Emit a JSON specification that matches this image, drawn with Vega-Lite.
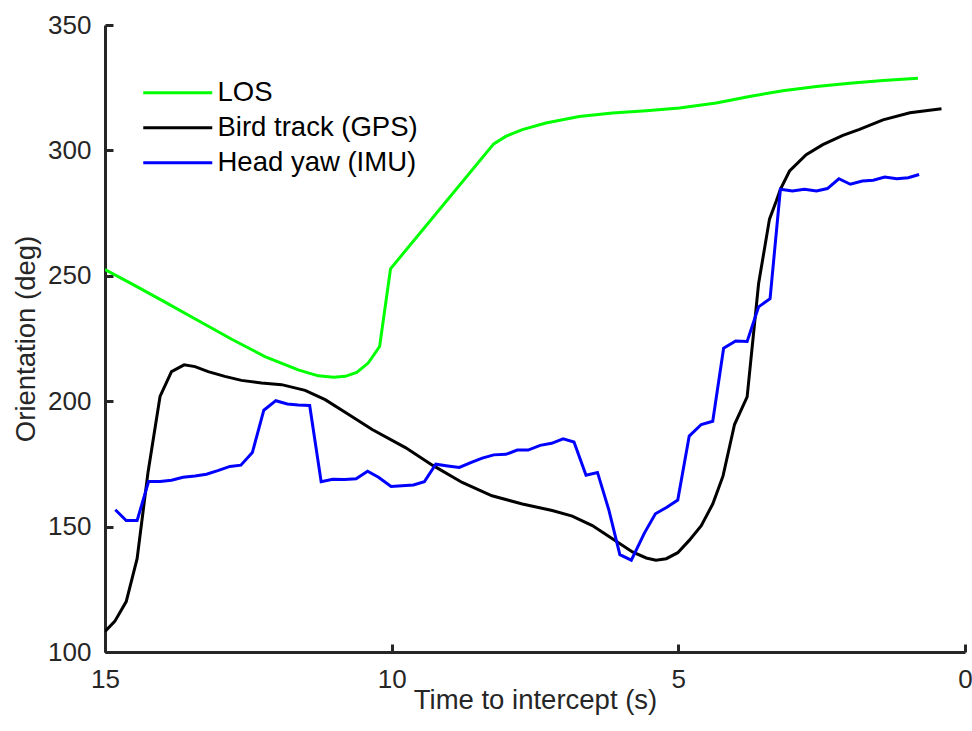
{
  "$schema": "https://vega.github.io/schema/vega-lite/v6.json",
  "width": 860,
  "height": 627,
  "autosize": "none",
  "padding": {"left": 105, "top": 25, "right": 7, "bottom": 79},
  "background": "white",
  "config": {
    "view": {"stroke": null},
    "font": "Liberation Sans",
    "axis": {
      "grid": false,
      "domainColor": "#262626",
      "domainWidth": 3,
      "tickColor": "#262626",
      "tickWidth": 3,
      "tickSize": -8,
      "labelColor": "#262626",
      "labelFont": "Liberation Sans",
      "labelFontSize": 26,
      "labelFlush": false,
      "labelOverlap": false,
      "titleColor": "#262626",
      "titleFont": "Liberation Sans",
      "titleFontSize": 27.5,
      "titleFontWeight": "normal"
    },
    "legend": {
      "labelFont": "Liberation Sans",
      "labelFontSize": 27.5,
      "labelColor": "#000000",
      "labelLimit": 0,
      "symbolType": "M-3,0H3",
      "symbolSize": 529,
      "symbolStrokeWidth": 3,
      "labelOffset": 26,
      "rowPadding": 6,
      "padding": 0
    }
  },
  "data": {
    "values": [
      {"series": "LOS", "t": 15.0, "v": 252.5},
      {"series": "LOS", "t": 14.54, "v": 246.9},
      {"series": "LOS", "t": 13.96, "v": 239.6},
      {"series": "LOS", "t": 13.37, "v": 232.1},
      {"series": "LOS", "t": 12.79, "v": 224.7},
      {"series": "LOS", "t": 12.21, "v": 217.8},
      {"series": "LOS", "t": 11.63, "v": 212.5},
      {"series": "LOS", "t": 11.28, "v": 210.1},
      {"series": "LOS", "t": 11.01, "v": 209.6},
      {"series": "LOS", "t": 10.81, "v": 209.9},
      {"series": "LOS", "t": 10.61, "v": 211.5},
      {"series": "LOS", "t": 10.41, "v": 215.2},
      {"series": "LOS", "t": 10.21, "v": 221.8},
      {"series": "LOS", "t": 10.02, "v": 252.8},
      {"series": "LOS", "t": 8.22, "v": 302.6},
      {"series": "LOS", "t": 8.01, "v": 305.6},
      {"series": "LOS", "t": 7.72, "v": 308.3},
      {"series": "LOS", "t": 7.31, "v": 310.9},
      {"series": "LOS", "t": 6.73, "v": 313.5},
      {"series": "LOS", "t": 6.15, "v": 314.9},
      {"series": "LOS", "t": 5.56, "v": 315.8},
      {"series": "LOS", "t": 4.98, "v": 316.9},
      {"series": "LOS", "t": 4.34, "v": 318.9},
      {"series": "LOS", "t": 3.76, "v": 321.5},
      {"series": "LOS", "t": 3.18, "v": 323.8},
      {"series": "LOS", "t": 2.59, "v": 325.5},
      {"series": "LOS", "t": 2.01, "v": 326.8},
      {"series": "LOS", "t": 1.43, "v": 327.9},
      {"series": "LOS", "t": 0.82, "v": 328.8},

      {"series": "Bird track (GPS)", "t": 15.0, "v": 108.2},
      {"series": "Bird track (GPS)", "t": 14.83, "v": 112.2},
      {"series": "Bird track (GPS)", "t": 14.63, "v": 120.1},
      {"series": "Bird track (GPS)", "t": 14.44, "v": 137.2},
      {"series": "Bird track (GPS)", "t": 14.25, "v": 171.6},
      {"series": "Bird track (GPS)", "t": 14.04, "v": 201.9},
      {"series": "Bird track (GPS)", "t": 13.84, "v": 211.8},
      {"series": "Bird track (GPS)", "t": 13.62, "v": 214.5},
      {"series": "Bird track (GPS)", "t": 13.43, "v": 213.8},
      {"series": "Bird track (GPS)", "t": 13.2, "v": 211.8},
      {"series": "Bird track (GPS)", "t": 12.91, "v": 209.9},
      {"series": "Bird track (GPS)", "t": 12.62, "v": 208.3},
      {"series": "Bird track (GPS)", "t": 12.27, "v": 207.3},
      {"series": "Bird track (GPS)", "t": 11.92, "v": 206.6},
      {"series": "Bird track (GPS)", "t": 11.51, "v": 204.3},
      {"series": "Bird track (GPS)", "t": 11.16, "v": 200.6},
      {"series": "Bird track (GPS)", "t": 10.75, "v": 194.7},
      {"series": "Bird track (GPS)", "t": 10.34, "v": 188.7},
      {"series": "Bird track (GPS)", "t": 9.76, "v": 181.5},
      {"series": "Bird track (GPS)", "t": 9.29, "v": 174.5},
      {"series": "Bird track (GPS)", "t": 8.77, "v": 167.6},
      {"series": "Bird track (GPS)", "t": 8.25, "v": 162.3},
      {"series": "Bird track (GPS)", "t": 7.72, "v": 159.0},
      {"series": "Bird track (GPS)", "t": 7.2, "v": 156.4},
      {"series": "Bird track (GPS)", "t": 6.85, "v": 154.2},
      {"series": "Bird track (GPS)", "t": 6.5, "v": 150.4},
      {"series": "Bird track (GPS)", "t": 6.15, "v": 145.2},
      {"series": "Bird track (GPS)", "t": 5.8, "v": 139.9},
      {"series": "Bird track (GPS)", "t": 5.56, "v": 137.5},
      {"series": "Bird track (GPS)", "t": 5.39, "v": 136.6},
      {"series": "Bird track (GPS)", "t": 5.21, "v": 137.2},
      {"series": "Bird track (GPS)", "t": 5.01, "v": 139.6},
      {"series": "Bird track (GPS)", "t": 4.81, "v": 144.5},
      {"series": "Bird track (GPS)", "t": 4.6, "v": 150.4},
      {"series": "Bird track (GPS)", "t": 4.4, "v": 159.0},
      {"series": "Bird track (GPS)", "t": 4.22, "v": 170.2},
      {"series": "Bird track (GPS)", "t": 4.02, "v": 190.7},
      {"series": "Bird track (GPS)", "t": 3.8, "v": 201.7},
      {"series": "Bird track (GPS)", "t": 3.6, "v": 246.9},
      {"series": "Bird track (GPS)", "t": 3.41, "v": 272.6},
      {"series": "Bird track (GPS)", "t": 3.29, "v": 279.9},
      {"series": "Bird track (GPS)", "t": 3.22, "v": 284.5},
      {"series": "Bird track (GPS)", "t": 3.06, "v": 291.8},
      {"series": "Bird track (GPS)", "t": 2.77, "v": 298.3},
      {"series": "Bird track (GPS)", "t": 2.48, "v": 302.3},
      {"series": "Bird track (GPS)", "t": 2.13, "v": 306.0},
      {"series": "Bird track (GPS)", "t": 1.84, "v": 308.4},
      {"series": "Bird track (GPS)", "t": 1.43, "v": 312.2},
      {"series": "Bird track (GPS)", "t": 0.96, "v": 315.0},
      {"series": "Bird track (GPS)", "t": 0.41, "v": 316.6},

      {"series": "Head yaw (IMU)", "t": 14.82, "v": 156.7},
      {"series": "Head yaw (IMU)", "t": 14.63, "v": 152.4},
      {"series": "Head yaw (IMU)", "t": 14.44, "v": 152.4},
      {"series": "Head yaw (IMU)", "t": 14.24, "v": 168.0},
      {"series": "Head yaw (IMU)", "t": 14.04, "v": 168.0},
      {"series": "Head yaw (IMU)", "t": 13.84, "v": 168.5},
      {"series": "Head yaw (IMU)", "t": 13.64, "v": 169.7},
      {"series": "Head yaw (IMU)", "t": 13.43, "v": 170.2},
      {"series": "Head yaw (IMU)", "t": 13.23, "v": 170.9},
      {"series": "Head yaw (IMU)", "t": 13.02, "v": 172.4},
      {"series": "Head yaw (IMU)", "t": 12.82, "v": 174.0},
      {"series": "Head yaw (IMU)", "t": 12.63, "v": 174.5},
      {"series": "Head yaw (IMU)", "t": 12.43, "v": 179.5},
      {"series": "Head yaw (IMU)", "t": 12.23, "v": 196.4},
      {"series": "Head yaw (IMU)", "t": 12.02, "v": 200.2},
      {"series": "Head yaw (IMU)", "t": 11.82, "v": 198.9},
      {"series": "Head yaw (IMU)", "t": 11.63, "v": 198.5},
      {"series": "Head yaw (IMU)", "t": 11.43, "v": 198.3},
      {"series": "Head yaw (IMU)", "t": 11.23, "v": 167.9},
      {"series": "Head yaw (IMU)", "t": 11.03, "v": 168.9},
      {"series": "Head yaw (IMU)", "t": 10.82, "v": 168.8},
      {"series": "Head yaw (IMU)", "t": 10.62, "v": 169.1},
      {"series": "Head yaw (IMU)", "t": 10.42, "v": 172.1},
      {"series": "Head yaw (IMU)", "t": 10.23, "v": 169.7},
      {"series": "Head yaw (IMU)", "t": 10.01, "v": 166.0},
      {"series": "Head yaw (IMU)", "t": 9.82, "v": 166.3},
      {"series": "Head yaw (IMU)", "t": 9.62, "v": 166.6},
      {"series": "Head yaw (IMU)", "t": 9.43, "v": 167.9},
      {"series": "Head yaw (IMU)", "t": 9.23, "v": 174.9},
      {"series": "Head yaw (IMU)", "t": 9.02, "v": 174.2},
      {"series": "Head yaw (IMU)", "t": 8.82, "v": 173.6},
      {"series": "Head yaw (IMU)", "t": 8.61, "v": 175.6},
      {"series": "Head yaw (IMU)", "t": 8.42, "v": 177.3},
      {"series": "Head yaw (IMU)", "t": 8.22, "v": 178.6},
      {"series": "Head yaw (IMU)", "t": 8.01, "v": 178.8},
      {"series": "Head yaw (IMU)", "t": 7.81, "v": 180.5},
      {"series": "Head yaw (IMU)", "t": 7.62, "v": 180.5},
      {"series": "Head yaw (IMU)", "t": 7.41, "v": 182.4},
      {"series": "Head yaw (IMU)", "t": 7.21, "v": 183.2},
      {"series": "Head yaw (IMU)", "t": 7.01, "v": 185.0},
      {"series": "Head yaw (IMU)", "t": 6.82, "v": 183.7},
      {"series": "Head yaw (IMU)", "t": 6.61, "v": 170.5},
      {"series": "Head yaw (IMU)", "t": 6.41, "v": 171.6},
      {"series": "Head yaw (IMU)", "t": 6.21, "v": 156.5},
      {"series": "Head yaw (IMU)", "t": 6.02, "v": 138.8},
      {"series": "Head yaw (IMU)", "t": 5.82, "v": 136.6},
      {"series": "Head yaw (IMU)", "t": 5.59, "v": 147.5},
      {"series": "Head yaw (IMU)", "t": 5.4, "v": 155.1},
      {"series": "Head yaw (IMU)", "t": 5.2, "v": 157.7},
      {"series": "Head yaw (IMU)", "t": 5.01, "v": 160.6},
      {"series": "Head yaw (IMU)", "t": 4.81, "v": 186.1},
      {"series": "Head yaw (IMU)", "t": 4.6, "v": 190.7},
      {"series": "Head yaw (IMU)", "t": 4.4, "v": 192.0},
      {"series": "Head yaw (IMU)", "t": 4.21, "v": 221.1},
      {"series": "Head yaw (IMU)", "t": 4.0, "v": 224.0},
      {"series": "Head yaw (IMU)", "t": 3.8, "v": 223.8},
      {"series": "Head yaw (IMU)", "t": 3.6, "v": 237.6},
      {"series": "Head yaw (IMU)", "t": 3.4, "v": 240.9},
      {"series": "Head yaw (IMU)", "t": 3.22, "v": 284.5},
      {"series": "Head yaw (IMU)", "t": 3.01, "v": 283.8},
      {"series": "Head yaw (IMU)", "t": 2.8, "v": 284.5},
      {"series": "Head yaw (IMU)", "t": 2.59, "v": 283.8},
      {"series": "Head yaw (IMU)", "t": 2.4, "v": 284.8},
      {"series": "Head yaw (IMU)", "t": 2.2, "v": 288.7},
      {"series": "Head yaw (IMU)", "t": 2.0, "v": 286.5},
      {"series": "Head yaw (IMU)", "t": 1.79, "v": 287.8},
      {"series": "Head yaw (IMU)", "t": 1.6, "v": 288.1},
      {"series": "Head yaw (IMU)", "t": 1.4, "v": 289.4},
      {"series": "Head yaw (IMU)", "t": 1.19, "v": 288.7},
      {"series": "Head yaw (IMU)", "t": 0.99, "v": 289.1},
      {"series": "Head yaw (IMU)", "t": 0.8, "v": 290.4}
    ]
  },
  "mark": {"type": "line", "strokeWidth": 3, "clip": true},
  "encoding": {
    "x": {
      "field": "t",
      "type": "quantitative",
      "scale": {"domain": [0, 15], "reverse": true, "nice": false, "zero": false},
      "axis": {"values": [0, 5, 10, 15], "format": "d", "title": "Time to intercept (s)", "labelPadding": 22, "titlePadding": -6}
    },
    "y": {
      "field": "v",
      "type": "quantitative",
      "scale": {"domain": [100, 350], "nice": false, "zero": false},
      "axis": {"values": [100, 150, 200, 250, 300, 350], "format": "d", "title": "Orientation (deg)", "labelPadding": 22, "titlePadding": 7}
    },
    "color": {
      "field": "series",
      "type": "nominal",
      "scale": {"domain": ["LOS", "Bird track (GPS)", "Head yaw (IMU)"], "range": ["#00ff00", "#000000", "#0000ff"]},
      "legend": {"title": null, "orient": "none", "legendX": 59, "legendY": 54}
    },
    "order": {"field": "t", "sort": "descending"}
  }
}
